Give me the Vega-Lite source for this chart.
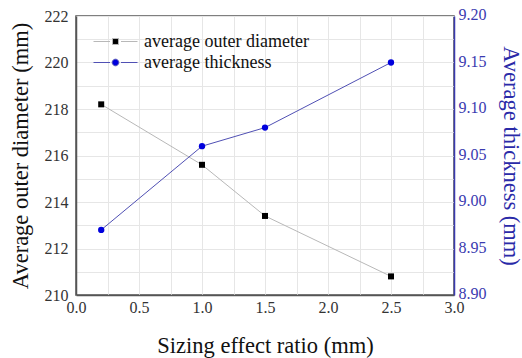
{
  "$schema": "https://vega.github.io/schema/vega-lite/v6.json",
  "width": 378,
  "height": 279,
  "autosize": {"type": "none"},
  "padding": {"left": 76, "top": 16, "right": 68, "bottom": 63},
  "background": "white",
  "config": {
    "font": "Liberation Serif",
    "view": {"stroke": "#555555", "strokeWidth": 1.5},
    "axis": {
      "labelFont": "Liberation Serif",
      "titleFont": "Liberation Serif",
      "labelFontSize": 16,
      "titleFontSize": 22.5,
      "titleFontWeight": "normal",
      "labelColor": "#333333",
      "titleColor": "#111111",
      "labelFlush": false,
      "gridColor": "#e6e6e6",
      "gridWidth": 1,
      "domainColor": "#555555",
      "domainWidth": 1.5,
      "tickColor": "#555555",
      "tickWidth": 1.2
    }
  },
  "datasets": {
    "diam": [
      {"ratio": 0.2, "value": 218.2, "series": "average outer diameter"},
      {"ratio": 1.0, "value": 215.6, "series": "average outer diameter"},
      {"ratio": 1.5, "value": 213.4, "series": "average outer diameter"},
      {"ratio": 2.5, "value": 210.8, "series": "average outer diameter"}
    ],
    "thick": [
      {"ratio": 0.2, "value": 8.97, "series": "average thickness"},
      {"ratio": 1.0, "value": 9.06, "series": "average thickness"},
      {"ratio": 1.5, "value": 9.08, "series": "average thickness"},
      {"ratio": 2.5, "value": 9.15, "series": "average thickness"}
    ]
  },
  "layer": [
    {
      "data": {"name": "diam"},
      "encoding": {
        "x": {
          "field": "ratio", "type": "quantitative",
          "scale": {"domain": [0, 3], "nice": false, "padding": 0, "zero": false},
          "title": "Sizing effect ratio (mm)",
          "axis": {
            "values": [0, 0.25, 0.5, 0.75, 1, 1.25, 1.5, 1.75, 2, 2.25, 2.5, 2.75, 3],
            "labelExpr": "round(datum.value*100) % 50 === 0 ? format(datum.value, '.1f') : ''",
            "labelFlush": false,
            "grid": true,
            "tickSize": 0,
            "labelPadding": 4,
            "titlePadding": 19,
            "encode": {
              "ticks": {"update": {"y2": {"signal": "round(datum.value*100) % 50 === 0 ? -6 : -3"}}},
              "grid": {"update": {"strokeOpacity": {"signal": "round(datum.value*100) % 50 === 0 && datum.value > 0 && datum.value < 3 ? 1 : 0"}}}
            }
          }
        },
        "y": {
          "field": "value", "type": "quantitative",
          "scale": {"domain": [210, 222], "nice": false, "zero": false},
          "title": "Average outer diameter (mm)",
          "axis": {
            "values": [210, 211, 212, 213, 214, 215, 216, 217, 218, 219, 220, 221, 222],
            "labelExpr": "datum.value % 2 === 0 ? datum.label : ''",
            "labelFlush": false,
            "grid": true,
            "tickSize": 0,
            "labelPadding": 8,
            "titlePadding": 12,
            "encode": {
              "ticks": {"update": {"x2": {"signal": "datum.value % 2 === 0 ? 6 : 3"}}},
              "grid": {"update": {"strokeOpacity": {"signal": "datum.value % 2 === 0 && datum.value > 210 && datum.value < 222 ? 1 : 0"}}}
            }
          }
        }
      },
      "layer": [
        {
          "mark": {"type": "line", "strokeWidth": 1},
          "encoding": {
            "stroke": {
              "field": "series", "type": "nominal",
              "scale": {"domain": ["average outer diameter", "average thickness"], "range": ["#b8b8b8", "#5050b4"]},
              "legend": {
                "title": null,
                "orient": "none",
                "legendX": 28,
                "legendY": 14,
                "padding": 0,
                "rowPadding": 0,
                "symbolSize": 484,
                "symbolStrokeWidth": 1,
                "labelFont": "Liberation Serif",
                "labelFontSize": 18,
                "labelColor": "#111111",
                "labelOffset": 17,
                "labelLimit": 0,
                "encode": {
                  "symbols": {
                    "update": {
                      "shape": {"signal": "datum.value === 'average outer diameter' ? 'M-2,0H-0.5M0.5,0H2M-0.27,-0.27H0.27V0.27H-0.27Z' : 'M-2,0H-0.5M0.5,0H2M0.3,0A0.3,0.3 0 1,1 -0.3,0A0.3,0.3 0 1,1 0.3,0Z'"},
                      "fill": {"signal": "datum.value === 'average outer diameter' ? '#000000' : '#0000dd'"},
                      "stroke": {"signal": "datum.value === 'average outer diameter' ? '#b8b8b8' : '#5050b4'"}
                    }
                  }
                }
              }
            }
          }
        },
        {"mark": {"type": "point", "shape": "square", "filled": true, "size": 36, "color": "#000000", "opacity": 1, "strokeWidth": 0}}
      ]
    },
    {
      "data": {"name": "thick"},
      "encoding": {
        "x": {
          "field": "ratio", "type": "quantitative",
          "axis": {
            "orient": "top",
            "values": [0, 0.25, 0.5, 0.75, 1, 1.25, 1.5, 1.75, 2, 2.25, 2.5, 2.75, 3],
            "labels": false,
            "title": null,
            "grid": false,
            "domain": false,
            "tickSize": 0,
            "encode": {
              "ticks": {"update": {"y2": {"signal": "round(datum.value*100) % 50 === 0 ? 6 : 3"}}}
            }
          }
        },
        "y": {
          "field": "value", "type": "quantitative",
          "scale": {"domain": [8.9, 9.2], "nice": false, "zero": false},
          "title": "Average thickness (mm)",
          "axis": {
            "orient": "right",
            "values": [8.9, 8.925, 8.95, 8.975, 9.0, 9.025, 9.05, 9.075, 9.1, 9.125, 9.15, 9.175, 9.2],
            "labelExpr": "round(datum.value*1000) % 50 === 0 ? format(datum.value, '.2f') : ''",
            "labelFlush": false,
            "labelOffset": -1.5,
            "grid": false,
            "tickSize": 0,
            "labelPadding": 4,
            "titlePadding": 12,
            "domainColor": "#3a3ab0",
            "tickColor": "#3a3ab0",
            "labelColor": "#3a3ab0",
            "titleColor": "#2a2aa8",
            "encode": {
              "ticks": {"update": {"x2": {"signal": "round(datum.value*1000) % 50 === 0 ? -6 : -3"}}}
            }
          }
        }
      },
      "layer": [
        {"mark": {"type": "line", "strokeWidth": 1}, "encoding": {"stroke": {"field": "series", "type": "nominal"}}},
        {"mark": {"type": "point", "shape": "circle", "filled": true, "size": 40, "color": "#0000dd", "opacity": 1, "strokeWidth": 0}}
      ]
    }
  ],
  "resolve": {"scale": {"y": "independent"}, "axis": {"x": "independent", "y": "independent"}}
}
